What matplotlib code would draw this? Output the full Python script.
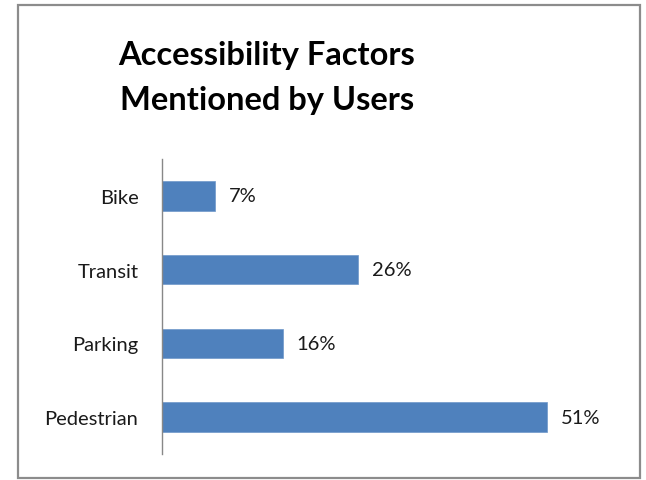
import matplotlib.pyplot as plt
from matplotlib.patches import Rectangle

plt.rcParams["font.family"] = ["Lato", "DejaVu Sans"]

categories = ["Bike", "Transit", "Parking", "Pedestrian"]
values = [7, 26, 16, 51]
value_labels = ["7%", "26%", "16%", "51%"]

W, H = 646, 481
fig = plt.figure(figsize=(W / 100, H / 100), dpi=100)

# outer chart frame
fig.patches.append(Rectangle((18 / W, 2 / H), 622 / W, 473 / H, transform=fig.transFigure,
                             fill=False, edgecolor="#8c8c8c", linewidth=1.6))

ax = fig.add_axes([162 / W, 26 / H, 453 / W, 295 / H])
y = list(range(len(categories)))
ax.barh(y, values, height=0.4, color="#4f81bd", edgecolor="#6f97c9", linewidth=0.5)
ax.set_xlim(0, 60)
ax.set_ylim(len(categories) - 0.5, -0.5)
ax.set_yticks(y)
ax.set_yticklabels(categories, fontsize=14.5, color="#1a1a1a")
ax.tick_params(axis="y", length=0, pad=17)
ax.set_xticks([])
for side in ["top", "right", "bottom"]:
    ax.spines[side].set_visible(False)
ax.spines["left"].set_color("#888888")
ax.spines["left"].set_linewidth(1.0)

for yi, v, lab in zip(y, values, value_labels):
    ax.text(v + 1.8, yi, lab, va="center", ha="left", fontsize=14.5, color="#1a1a1a")

fig.text(267 / W, 1 - 56 / H, "Accessibility Factors", ha="center", va="center",
         fontsize=23.5, fontweight="bold")
fig.text(267 / W, 1 - 101 / H, "Mentioned by Users", ha="center", va="center",
         fontsize=23.5, fontweight="bold")

fig.savefig("out.png", dpi=100)
